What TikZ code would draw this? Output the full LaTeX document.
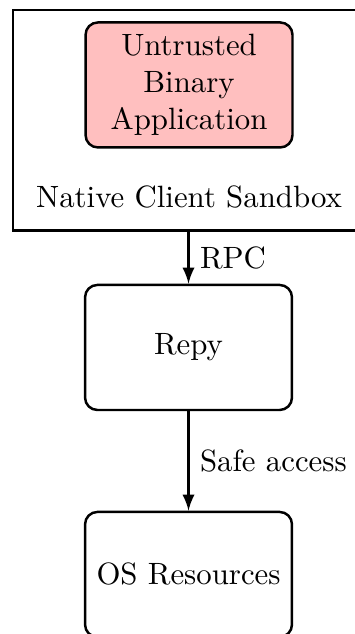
\documentclass[tikz,border=0pt]{standalone}
\begin{document}
\begin{tikzpicture}[
    box/.style={draw,thick,rounded corners,minimum width=2.36cm,minimum height=1.426cm,align=center},
    link/.style={-latex,thick}
  ]
  \useasboundingbox (0,0) rectangle (4.049,-7.231);
  % Sandbox
  \node[draw,thick,minimum width=4.015cm,minimum height=2.515cm] (sandbox) at (2.156,-1.371) {};
  \node[box,fill=red!25] (untrusted) at (2.156,-0.969) {Untrusted\\Binary\\Application};
  \node[anchor=base] (sblabel) at (2.156,-2.361) {Native Client Sandbox};
  % Repy and OS
  \node[box] (repy) at (2.150,-3.963) {Repy};
  \node[box] (osres) at (2.150,-6.552) {OS Resources};
  % Arrows
  \draw[link] (repy.north |- sandbox.south) -- node[right] {RPC} (repy.north);
  \draw[link] (repy) -- node[right] {Safe access} (osres);
\end{tikzpicture}
\end{document}
